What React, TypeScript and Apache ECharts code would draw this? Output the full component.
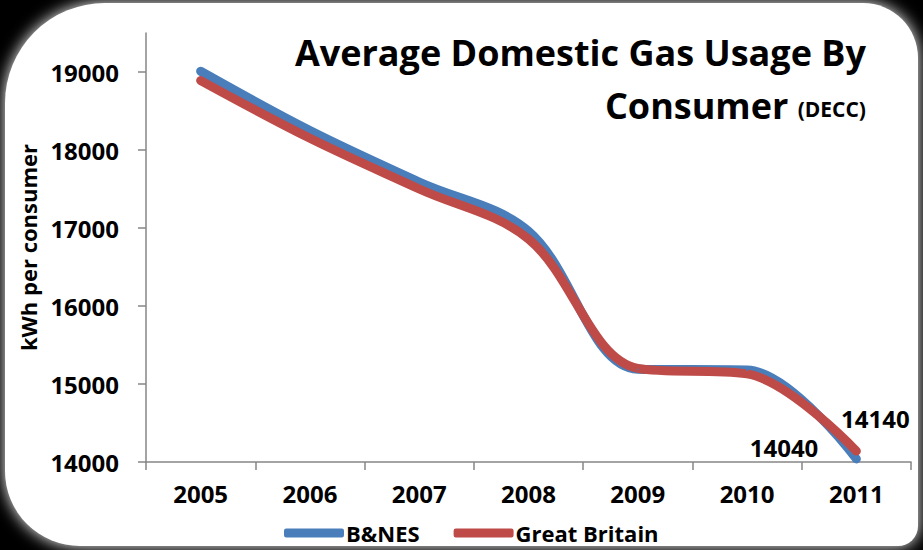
import React, { useEffect, useRef } from "react";
import * as echarts from "echarts";

const years = ["2005", "2006", "2007", "2008", "2009", "2010", "2011"];
const bnes = [19010, 18250, 17590, 16960, 15190, 15180, 14040];
const gb = [18890, 18150, 17500, 16860, 15200, 15130, 14140];
const yTicks = [14000, 15000, 16000, 17000, 18000, 19000];

const FONT = "'Open Sans', Lato, sans-serif";

export default function App() {
  const ref = useRef<HTMLDivElement>(null);
  useEffect(() => {
    if (!ref.current) return;
    const chart = echarts.init(ref.current, undefined, { renderer: "svg" });
    const last = years.length - 1;
    const mk = (arr: number[], label: any) =>
      arr.map((v, i) => (i === last ? { value: v, label } : v));
    chart.setOption({
      animation: false,
      backgroundColor: "#000",
      textStyle: { fontFamily: FONT },
      graphic: [
        {
          type: "rect",
          z: -10,
          shape: { x: 5, y: 3, width: 913, height: 543, r: [100, 55, 20, 75] },
          style: { fill: "#fff", shadowBlur: 16, shadowColor: "#fff" },
        },
        {
          type: "text",
          style: {
            text: "Average Domestic Gas Usage By",
            x: 866,
            y: 52,
            align: "right",
            verticalAlign: "middle",
            font: `bold 36px ${FONT}`,
            fill: "#000",
          },
        },
        {
          type: "text",
          style: {
            text: "Consumer {s|(DECC)}",
            x: 866,
            y: 105,
            align: "right",
            verticalAlign: "middle",
            font: `bold 36px ${FONT}`,
            fill: "#000",
            rich: {
              s: { font: `bold 21px ${FONT}`, fill: "#000", padding: [8, 0, 0, 0] },
            },
          },
        },
      ],
      grid: { left: 146, right: 12, top: 33, bottom: 88 },
      legend: {
        left: 284,
        top: 522,
        padding: 0,
        itemWidth: 60,
        itemHeight: 9,
        itemGap: 34,
        icon: "roundRect",
        textStyle: { fontFamily: FONT, fontWeight: "bold", fontSize: 22, color: "#000", padding: [0, 0, 0, -3] },
        data: ["B&NES", "Great Britain"],
      },
      xAxis: {
        type: "category",
        data: years,
        boundaryGap: true,
        axisLine: { lineStyle: { color: "#868686", width: 1.5 } },
        axisTick: { show: true, length: 8, lineStyle: { color: "#868686", width: 1.5 } },
        axisLabel: { color: "#000", fontWeight: "bold", fontSize: 24, margin: 19, fontFamily: FONT },
      },
      yAxis: {
        type: "value",
        min: 14000,
        max: 19500,
        name: "kWh per consumer",
        nameLocation: "middle",
        nameRotate: 90,
        nameGap: 104,
        nameTextStyle: { color: "#000", fontWeight: "bold", fontSize: 22, fontFamily: FONT },
        splitLine: { show: false },
        axisLine: { show: true, lineStyle: { color: "#868686", width: 1.5 } },
        axisTick: { show: true, length: 8, customValues: yTicks, lineStyle: { color: "#868686", width: 1.5 } },
        axisLabel: {
          color: "#000",
          fontWeight: "bold",
          fontSize: 24,
          margin: 27,
          fontFamily: FONT,
          customValues: yTicks,
          formatter: (v: number) => String(v),
        },
      },
      series: [
        {
          name: "B&NES",
          type: "line",
          smooth: 0.35,
          clip: false,
          symbol: "circle",
          symbolSize: 2,
          showSymbol: true,
          color: "#4A7EBB",
          lineStyle: { width: 9, color: "#4A7EBB", cap: "round" },
          data: mk(bnes, {
            show: true,
            position: "left",
            offset: [-32, -11],
            color: "#000",
            fontWeight: "bold",
            fontSize: 24,
            fontFamily: FONT,
            formatter: (p: any) => String(p.value),
          }),
        },
        {
          name: "Great Britain",
          type: "line",
          smooth: 0.35,
          clip: false,
          symbol: "circle",
          symbolSize: 2,
          showSymbol: true,
          color: "#BE4B48",
          lineStyle: { width: 9, color: "#BE4B48", cap: "round" },
          data: mk(gb, {
            show: true,
            position: "top",
            offset: [19, -15],
            color: "#000",
            fontWeight: "bold",
            fontSize: 24,
            fontFamily: FONT,
            formatter: (p: any) => String(p.value),
          }),
        },
      ],
    });
    return () => chart.dispose();
  }, []);
  return (
    <div
      ref={ref}
      style={{ position: "absolute", left: 0, top: 0, width: 923, height: 550 }}
    />
  );
}
